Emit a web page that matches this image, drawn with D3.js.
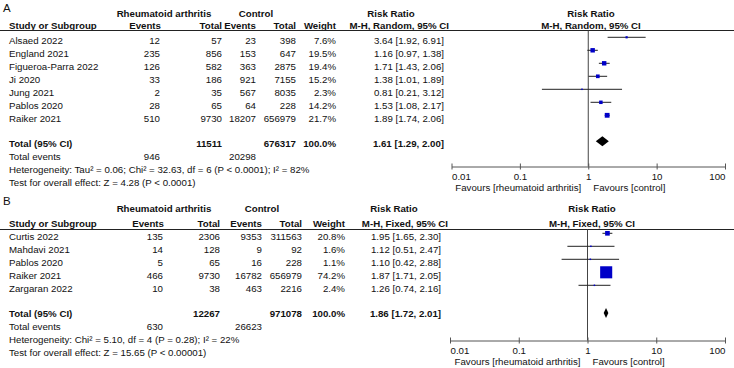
<!DOCTYPE html>
<html lang="en">
<head>
<meta charset="UTF-8">
<title>Forest plots</title>
<script src="https://d3js.org/d3.v7.min.js"></script>
<style>
  * { margin: 0; padding: 0 }
  body { background: #fff; }
  svg text { font-family: "Liberation Sans", Arial, sans-serif; font-size: 9.7px; fill: #111; }
  svg text.b { font-weight: bold; }
</style>
</head>
<body>
<svg id="chart" width="734" height="368"></svg>
<script>
// ---- panel A data (random effects) ----
const studiesA = ["Alsaed 2022", "England 2021", "Figueroa-Parra 2022", "Ji 2020", "Jung 2021", "Pablos 2020", "Raiker 2021"];
const raEventsA = [12, 235, 126, 33, 2, 28, 510];
const raTotalA = [57, 856, 582, 186, 35, 65, 9730];
const ctlEventsA = [23, 153, 363, 921, 567, 64, 18207];
const ctlTotalA = [398, 647, 2875, 7155, 8035, 228, 656979];
const weightA = [7.6, 19.5, 19.4, 15.2, 2.3, 14.2, 21.7];
const rrA = [3.64, 1.16, 1.71, 1.38, 0.81, 1.53, 1.89];
const lowA = [1.92, 0.97, 1.43, 1.01, 0.21, 1.08, 1.74];
const highA = [6.91, 1.38, 2.06, 1.89, 3.12, 2.17, 2.06];
const pooledA = [1.61, 1.29, 2.00];
const totalsA = [11511, 676317];
const totalEventsA = [946, 20298];
const hetA = "Heterogeneity: Tau² = 0.06; Chi² = 32.63, df = 6 (P < 0.0001); I² = 82%";
const testA = "Test for overall effect: Z = 4.28 (P < 0.0001)";

// ---- panel B data (fixed effects) ----
const studiesB = ["Curtis 2022", "Mahdavi 2021", "Pablos 2020", "Raiker 2021", "Zargaran 2022"];
const raEventsB = [135, 14, 5, 466, 10];
const raTotalB = [2306, 128, 65, 9730, 38];
const ctlEventsB = [9353, 9, 16, 16782, 463];
const ctlTotalB = [311563, 92, 228, 656979, 2216];
const weightB = [20.8, 1.6, 1.1, 74.2, 2.4];
const rrB = [1.95, 1.12, 1.10, 1.87, 1.26];
const lowB = [1.65, 0.51, 0.42, 1.71, 0.74];
const highB = [2.30, 2.47, 2.88, 2.05, 2.16];
const pooledB = [1.86, 1.72, 2.01];
const totalsB = [12267, 971078];
const totalEventsB = [630, 26623];
const hetB = "Heterogeneity: Chi² = 5.10, df = 4 (P = 0.28); I² = 22%";
const testB = "Test for overall effect: Z = 15.65 (P < 0.00001)";

const axisTicks = [0.01, 0.1, 1, 10, 100];
const favours = ["Favours [rheumatoid arthritis]", "Favours [control]"];

const svg = d3.select('#chart');
const fmt2 = d3.format('.2f');
const ci = (r, l, h) => fmt2(r) + ' [' + fmt2(l) + ', ' + fmt2(h) + ']';

// square side grows a bit slower than weight
const size = d3.scalePow().exponent(0.75).domain([0, 100]).range([0, 15.1]);

function drawPanel(p) {
  const g = svg.append('g');
  const c = p.cols;
  const x = d3.scaleLog().domain([0.01, 100]).range(p.plotRange);

  const txt = (s, xx, yy, anchor, bold) => g.append('text')
    .attr('x', xx).attr('y', yy)
    .attr('text-anchor', anchor || 'start')
    .classed('b', !!bold)
    .text(s);

  g.append('text').attr('x', 3).attr('y', p.letterY)
    .style('font-size', '11.5px').text(p.letter);

  // headers
  txt('Rheumatoid arthritis', c.group1, p.hdr1, 'middle', true);
  txt('Control', c.group2, p.hdr1, 'middle', true);
  txt('Risk Ratio', c.rrHead, p.hdr1, 'middle', true);
  txt('Risk Ratio', c.plotHead, p.hdr1, 'middle', true);
  txt('Study or Subgroup', c.study, p.hdr2, 'start', true);
  txt('Events', c.ev1, p.hdr2, 'end', true);
  txt('Total', c.tot1, p.hdr2, 'end', true);
  txt('Events', c.ev2, p.hdr2, 'end', true);
  txt('Total', c.tot2, p.hdr2, 'end', true);
  txt('Weight', c.wt, p.hdr2, 'end', true);
  txt(p.method, c.rrHeadRight, p.hdr2, 'end', true);
  txt(p.method, c.plotHead, p.hdr2, 'middle', true);

  g.append('line').attr('x1', 0).attr('x2', 734)
    .attr('y1', p.lineY).attr('y2', p.lineY)
    .attr('stroke', '#222').attr('stroke-width', 1);

  // study rows
  p.studies.forEach((s, i) => {
    const y = p.row0 + i * 13;
    txt(s, c.study, y);
    txt(p.ev1[i], c.ev1 - 1, y, 'end');
    txt(p.tot1[i], c.tot1, y, 'end');
    txt(p.ev2[i], c.ev2, y, 'end');
    txt(p.tot2[i], c.tot2, y, 'end');
    txt(p.wt[i].toFixed(1) + '%', c.wt, y, 'end');
    txt(ci(p.rr[i], p.lo[i], p.hi[i]), c.rr, y, 'end');
  });

  // totals
  txt('Total (95% CI)', c.study, p.totalY, 'start', true);
  txt(p.totals[0], c.tot1, p.totalY, 'end', true);
  txt(p.totals[1], c.tot2, p.totalY, 'end', true);
  txt('100.0%', c.wt, p.totalY, 'end', true);
  txt(ci(p.pooled[0], p.pooled[1], p.pooled[2]), c.rr, p.totalY, 'end', true);
  txt('Total events', c.study, p.totalY + 13);
  txt(p.events[0], c.ev1 - 1, p.totalY + 13, 'end');
  txt(p.events[1], c.ev2, p.totalY + 13, 'end');
  txt(p.het, c.study, p.totalY + 26);
  txt(p.test, c.study, p.totalY + 39);

  // null line
  g.append('line').attr('x1', x(1)).attr('x2', x(1))
    .attr('y1', p.lineY).attr('y2', p.axisY)
    .attr('stroke', '#444').attr('stroke-width', 1);

  // CIs and squares
  const rows = p.studies.map((s, i) => ({ i: i, rr: p.rr[i], lo: p.lo[i], hi: p.hi[i], w: p.wt[i] }));
  const rg = g.selectAll('g.row').data(rows).enter().append('g').classed('row', true)
    .attr('transform', d => 'translate(0,' + (p.row0 + d.i * 13 - 7) + ')');
  rg.append('line')
    .attr('x1', d => x(d.lo)).attr('x2', d => x(d.hi))
    .attr('y1', 0).attr('y2', 0)
    .attr('stroke', '#222').attr('stroke-width', 1);
  rg.append('rect')
    .attr('x', d => x(d.rr) - Math.max(1.5, size(d.w)) / 2)
    .attr('y', d => -Math.max(1.5, size(d.w)) / 2)
    .attr('width', d => Math.max(1.5, size(d.w)))
    .attr('height', d => Math.max(1.5, size(d.w)))
    .attr('fill', '#0000c8');

  // pooled diamond
  const dy = p.totalY - p.diamondOff;
  g.append('path')
    .attr('d', 'M' + x(p.pooled[1]) + ',' + dy +
      'L' + x(p.pooled[0]) + ',' + (dy - 5) +
      'L' + x(p.pooled[2]) + ',' + dy +
      'L' + x(p.pooled[0]) + ',' + (dy + 5) + 'Z')
    .attr('fill', '#000');

  // axis
  const ax = g.append('g').attr('transform', 'translate(0,' + p.axisY + ')')
    .call(d3.axisBottom(x).tickValues(axisTicks).tickFormat(d => String(d)).tickSize(3).tickSizeOuter(0));
  ax.select('.domain').attr('stroke', '#555');
  ax.selectAll('.tick line').attr('y1', -3).attr('y2', 3).attr('stroke', '#555');
  ax.selectAll('.tick text')
    .attr('y', 13.5).attr('dy', null)
    .attr('text-anchor', (d, i) => i === 0 ? 'start' : (i === axisTicks.length - 1 ? 'end' : 'middle'))
    .attr('fill', '#111')
    .style('font-family', '"Liberation Sans", Arial, sans-serif').style('font-size', '9.7px');

  txt(favours[0], x(1) - 7, p.axisY + 24, 'end');
  txt(favours[1], x(1) + 5, p.axisY + 24, 'start');
}

drawPanel({
  letter: 'A', letterY: 11.5, hdr1: 17, hdr2: 28.5, lineY: 30.5, row0: 44.3,
  totalY: 147, diamondOff: 5.7, axisY: 166.5, plotRange: [451.5, 725],
  method: 'M-H, Random, 95% CI',
  cols: { study: 9, ev1: 161, tot1: 222, ev2: 256, tot2: 296, wt: 336, rr: 444,
    group1: 164, group2: 256, rrHead: 391, rrHeadRight: 449, plotHead: 591 },
  studies: studiesA, ev1: raEventsA, tot1: raTotalA, ev2: ctlEventsA, tot2: ctlTotalA,
  wt: weightA, rr: rrA, lo: lowA, hi: highA, pooled: pooledA,
  totals: totalsA, events: totalEventsA, het: hetA, test: testA
});

drawPanel({
  letter: 'B', letterY: 204.5, hdr1: 212.3, hdr2: 227, lineY: 229.5, row0: 240.3,
  totalY: 317, diamondOff: 4, axisY: 340.5, plotRange: [450, 725],
  method: 'M-H, Fixed, 95% CI',
  cols: { study: 9, ev1: 164, tot1: 220, ev2: 262, tot2: 302, wt: 345, rr: 441,
    group1: 164, group2: 262, rrHead: 394, rrHeadRight: 448, plotHead: 592 },
  studies: studiesB, ev1: raEventsB, tot1: raTotalB, ev2: ctlEventsB, tot2: ctlTotalB,
  wt: weightB, rr: rrB, lo: lowB, hi: highB, pooled: pooledB,
  totals: totalsB, events: totalEventsB, het: hetB, test: testB
});
</script>
</body>
</html>
